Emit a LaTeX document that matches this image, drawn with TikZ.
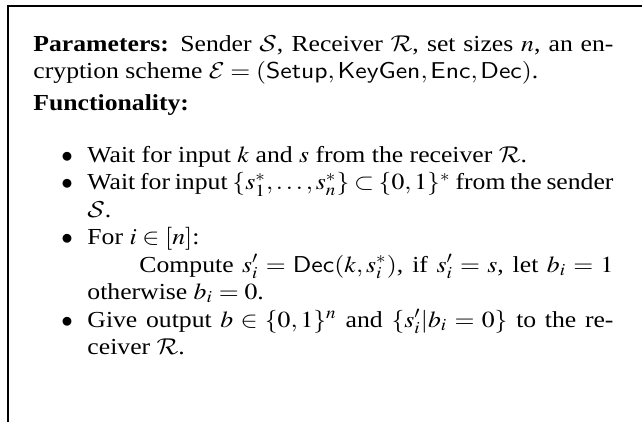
\documentclass[tikz,border=0pt]{standalone}
\usepackage{graphicx}
\usepackage{mathptmx}
\usepackage{fontspec}
\setmainfont{Liberation Serif}
\setsansfont{Liberation Sans}
\DeclareMathAlphabet{\mathcal}{OMS}{cmsy}{m}{n}
% the printed text is a little wider than high
\newcommand{\wideline}[1]{\scalebox{1.12}[1]{#1}}
\tikzset{
    textline/.style={anchor=base west, inner sep=0pt, text height=6.5pt, text depth=1.5pt},
    dot/.style={anchor=base, inner sep=0pt}
}

\begin{document}
\begin{tikzpicture}[x=0.436pt, y=-0.436pt]
% widths of the justified lines (before widening)
\def\fullw{225.8pt}
\def\itemw{204.8pt}
\def\compw{184.5pt}
\useasboundingbox (0,0) rectangle (642,422);

% frame, top and left side only
\draw[line width=0.6pt] (642,6) -- (8,6) -- (8,422);

% Parameters
\node[textline] (par1) at (33,51)
    {\wideline{\hbox to \fullw{\textbf{Parameters:} Sender $\mathcal{S}$, Receiver $\mathcal{R}$, set sizes $n$, an en-}}};
\node[textline] (par2) at (33,78.5)
    {\wideline{cryption scheme $\mathcal{E} = (\mathsf{Setup}, \mathsf{KeyGen}, \mathsf{Enc}, \mathsf{Dec})$.}};

% Functionality
\node[textline] (func) at (33,110) {\wideline{\textbf{Functionality:}}};

% bullets
\foreach \y [count=\k] in {162,189.5,244.5,327} {
    \node[dot] (dot\k) at (67,\y) {$\bullet$};
}

% items
\node[textline] (item1) at (87,162)
    {\wideline{Wait for input $k$ and $s$ from the receiver $\mathcal{R}$.}};
\node[textline] (item2a) at (87,189.5)
    {\wideline{\hbox to \itemw{Wait for input $\{s_1^*,\ldots,s_n^*\}\subset\{0,1\}^*$ from the sender}}};
\node[textline] (item2b) at (87,217) {\wideline{$\mathcal{S}$.}};
\node[textline] (item3a) at (87,244.5) {\wideline{For $i\in[n]$:}};
\node[textline] (item3b) at (139,272)
    {\wideline{\hbox to \compw{Compute $s'_i = \mathsf{Dec}(k,s_i^*)$, if $s'_i = s$, let $b_i = 1$}}};
\node[textline] (item3c) at (87,299.5) {\wideline{otherwise $b_i = 0$.}};
\node[textline] (item4a) at (87,327)
    {\wideline{\hbox to \itemw{Give output $b\in\{0,1\}^n$ and $\{s'_i|b_i=0\}$ to the re-}}};
\node[textline] (item4b) at (87,354.5) {\wideline{ceiver $\mathcal{R}$.}};
\end{tikzpicture}
\end{document}
